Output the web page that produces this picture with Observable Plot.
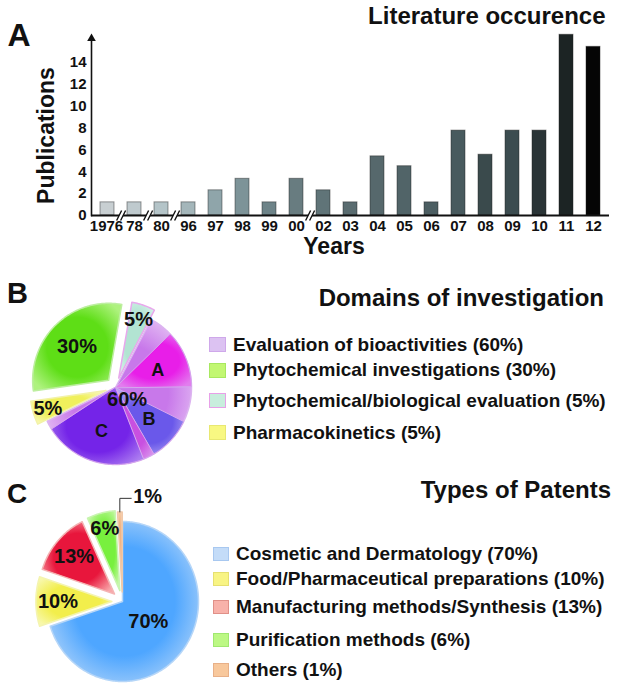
<!DOCTYPE html>
<html>
<head>
<meta charset="utf-8">
<script src="https://cdn.jsdelivr.net/npm/d3@7"></script>
<script src="https://cdn.jsdelivr.net/npm/@observablehq/plot@0.6"></script>
<style>
  body { margin: 0; background: #fff; }
  #root { position: relative; width: 624px; height: 684px; overflow: hidden; font-family: "Liberation Sans", Arial, sans-serif; color: #111; }
  .abs { position: absolute; }
  .ttl { font-weight: bold; font-size: 24px; line-height: 24px; white-space: nowrap; }
  .row { position: absolute; display: flex; align-items: center; height: 20px; white-space: nowrap; }
  .sw { box-sizing: border-box; border: 1px solid; margin-right: 7px; flex: none; }
  .lt { font-weight: bold; font-size: 19px; line-height: 20px; }
</style>
</head>
<body>
<div id="root"></div>
<script>
// ================= DATA =================
// Panel A – literature occurrence
const years = ["1976","78","80","96","97","98","99","00","02","03","04","05","06","07","08","09","10","11","12"];
const publications = [1.2,1.2,1.2,1.2,2.3,3.35,1.2,3.35,2.3,1.2,5.4,4.5,1.2,7.75,5.55,7.75,7.75,16.5,15.4];
const yTicks = [0,2,4,6,8,10,12,14];
const axisBreaksAfter = ["1976","78","80","00"];

// Panel B – domains of investigation
const domains = ["Evaluation of bioactivities","Phytochemical investigations","Phytochemical/biological evaluation","Pharmacokinetics"];
const domainShares = [60,30,5,5];
const domainPieOrder = ["Phytochemical/biological evaluation","Evaluation of bioactivities","Pharmacokinetics","Phytochemical investigations"];
const bioactivityParts = ["", "A", "", "B", "", "C", ""];
const bioactivityPartShares = [5,12,7.5,9.3,2.4,21.9,1.9];

// Panel C – types of patents
const patentTypes = ["Cosmetic and Dermatology","Food/Pharmaceutical preparations","Manufacturing methods/Synthesis","Purification methods","Others"];
const patentShares = [70,10,13,6,1];

// ================= STYLES =================
const FONT = "Liberation Sans, Arial, sans-serif";
const barColors = ["#c8cfd2","#bfcace","#b4c4c8","#a4b6ba","#8fa5aa","#7d9398","#6d8388","#687c80","#607478","#5a6c70",
                   "#56686c","#516468","#4c5e62","#485a5e","#3a4a4c","#3c4c50","#2a3436","#1c2424","#050505"];
const domainStyle = {
  "Evaluation of bioactivities": {inner:"#c878ea", outer:"#e8c8f5", stroke:"#dcb4f0", sw:"#dcc2f2", swb:"#cfa8ea"},
  "Phytochemical investigations": {inner:"#5ede16", outer:"#aef27e", stroke:"#bdeea0", sw:"#c2f772", swb:"#a8e860"},
  "Phytochemical/biological evaluation": {inner:"#b2e4d2", outer:"#d6f2ea", stroke:"#e8a8ec", sw:"#c8eedd", swb:"#e8a0e8"},
  "Pharmacokinetics": {inner:"#f0f05c", outer:"#f8f8b6", stroke:"#f2f2a8", sw:"#f8f882", swb:"#e8e872"}
};
const partStyle = [null, {inner:"#e81ee8", outer:"#e27cee"}, null, {inner:"#6a58ea", outer:"#b4a6f2"},
                   {inner:"#c850e0", outer:"#d890ec"}, {inner:"#7424e8", outer:"#ac7cf0"}, null];
const patentStyle = [
  {inner:"#4ea6ff", outer:"#b6d6f8", stroke:"#b6d6f8", sw:"#c4dcf8", swb:"#a8c8f0"},
  {inner:"#f2ee4c", outer:"#f8f8ac", stroke:"#f4f4b0", sw:"#f8f484", swb:"#e6e070"},
  {inner:"#e8163c", outer:"#f8a8aa", stroke:"#f4b4b4", sw:"#f8b2aa", swb:"#e09088"},
  {inner:"#78f03e", outer:"#c8f8aa", stroke:"#c8f4b0", sw:"#bcf884", swb:"#a0e870"},
  {inner:"#f2b484", outer:"#f8d6b8", stroke:"#f0c8a8", sw:"#f8c89c", swb:"#e8b088"}
];

const root = document.getElementById("root");

// axis-break symbols ("//")
const breakGap = {draw(ctx, size) {
  const h = Math.sqrt(size / Math.PI), w = h * 0.5, g = 2;
  ctx.moveTo(-g - w, h); ctx.lineTo(-g + w, -h); ctx.lineTo(g + w, -h); ctx.lineTo(g - w, h); ctx.closePath();
}};
const breakLines = {draw(ctx, size) {
  const h = Math.sqrt(size / Math.PI), w = h * 0.5, g = 2;
  ctx.moveTo(-g - w, h); ctx.lineTo(-g + w, -h);
  ctx.moveTo(g - w, h); ctx.lineTo(g + w, -h);
}};

// ================= PANEL A =================
const bars = years.map((y, i) => ({year: y, value: publications[i], color: barColors[i]}));
const tickText = {tickSize: 0, tickPadding: 5, fontSize: 15, fontWeight: "bold", label: null};
const plotA = Plot.plot({
  width: 624, height: 262,
  marginLeft: 91, marginRight: 15, marginTop: 39, marginBottom: 47,
  style: {fontFamily: FONT, background: "transparent", overflow: "visible", color: "#111"},
  x: {domain: years, paddingInner: 0.48, paddingOuter: 0.31, axis: null},
  y: {domain: [0, 16.07], axis: null},
  color: {type: "identity"},
  marks: [
    Plot.barY(bars, {x: "year", y: "value", fill: "color", stroke: "#222", strokeOpacity: 0.45, strokeWidth: 1}),
    Plot.frame({anchor: "left", strokeWidth: 1.6}),
    Plot.ruleY([0], {strokeWidth: 2.2}),
    Plot.dot(axisBreaksAfter, {x: d => d, y: () => 0, dx: 13.6, symbol: breakGap, r: 5, fill: "white", stroke: null}),
    Plot.dot(axisBreaksAfter, {x: d => d, y: () => 0, dx: 13.6, symbol: breakLines, r: 5, fill: "none", stroke: "#111", strokeWidth: 1.4}),
    Plot.dot([0], {frameAnchor: "top-left", symbol: "triangle", r: 3.2, fill: "#111", stroke: null, dy: -1}),
    Plot.axisY({ticks: yTicks, tickSize: 0, tickPadding: 5, fontSize: 15, fontWeight: "bold", label: null}),
    Plot.axisX(years.slice(1), tickText),
    Plot.axisX(years.slice(0, 1), {...tickText, dx: -1}),
    Plot.text(["Publications"], {frameAnchor: "left", textAnchor: "middle", lineAnchor: "middle", rotate: -90, dx: -44.5, dy: 8, fontSize: 23, fontWeight: "bold"}),
    Plot.text(["Years"], {frameAnchor: "bottom", textAnchor: "middle", lineAnchor: "middle", dx: -16.5, dy: 31.5, fontSize: 23, fontWeight: "bold"}),
    Plot.text(["Literature occurence"], {frameAnchor: "top-right", textAnchor: "end", lineAnchor: "middle", dx: -4, dy: -23.2, fontSize: 24, fontWeight: "bold"}),
    Plot.text(["A"], {frameAnchor: "top-left", textAnchor: "start", lineAnchor: "middle", dx: -84, dy: -4.2, fontSize: 32, fontWeight: "bold"})
  ]
});
plotA.style.position = "absolute"; plotA.style.left = "0px"; plotA.style.top = "0px";
root.appendChild(plotA);

// ================= PIE HELPERS =================
let gradCount = 0;
const gradients = [];
function grad(inner, outer) {
  const id = "g" + (gradCount++);
  gradients.push({id, inner, outer});
  return `url(#${id})`;
}
function wedgePoints(a0, a1, off) {
  const mid = (a0 + a1) / 2;
  const ox = off * Math.sin(mid), oy = off * Math.cos(mid);
  const n = Math.max(2, Math.ceil((a1 - a0) / (Math.PI / 180)));
  const pts = [{x: ox, y: oy}];
  for (let i = 0; i <= n; i++) {
    const a = a0 + (a1 - a0) * i / n;
    pts.push({x: ox + Math.sin(a), y: oy + Math.cos(a)});
  }
  return pts;
}
function polar(a, r, off) {
  return {x: off * Math.sin(a) + r * Math.sin(a), y: off * Math.cos(a) + r * Math.cos(a)};
}
function labelRadius(share, big) {
  if (share >= 50) return big;
  if (share >= 20) return 0.6;
  if (share >= 8) return 0.71;
  return 0.8;
}
function piePlot({H, cx, cy, rx, ry, marks}) {
  return Plot.plot({
    width: 624, height: H, margin: 0,
    style: {fontFamily: FONT, background: "transparent", overflow: "visible", color: "#111"},
    x: {domain: [-cx / rx, (624 - cx) / rx], range: [0, 624], axis: null},
    y: {domain: [(cy - H) / ry, cy / ry], range: [H, 0], axis: null},
    marks
  });
}
function addDefs(svg) {
  const defs = d3.select(svg).insert("defs", ":first-child");
  for (const g of gradients.splice(0)) {
    const rg = defs.append("radialGradient").attr("id", g.id).attr("cx", "50%").attr("cy", "50%").attr("r", "62%");
    rg.append("stop").attr("offset", "0%").attr("stop-color", g.inner);
    rg.append("stop").attr("offset", "55%").attr("stop-color", g.inner);
    rg.append("stop").attr("offset", "100%").attr("stop-color", g.outer);
  }
}
function place(el, top) { el.style.position = "absolute"; el.style.left = "0px"; el.style.top = top + "px"; root.appendChild(el); }
function addLegend(names, styles, rowsY, swLeft, swW, swH, textLeft) {
  names.forEach((name, i) => {
    const row = document.createElement("div");
    row.className = "row";
    row.style.left = swLeft + "px";
    row.style.top = (rowsY[i] - 10) + "px";
    const sw = document.createElement("div");
    sw.className = "sw";
    sw.style.width = swW + "px"; sw.style.height = swH + "px";
    sw.style.background = styles[i].sw; sw.style.borderColor = styles[i].swb;
    sw.style.marginRight = (textLeft - swLeft - swW) + "px";
    const t = document.createElement("span");
    t.className = "lt";
    t.textContent = `${name} (${styles[i].share}%)`;
    row.appendChild(sw); row.appendChild(t);
    root.appendChild(row);
  });
}
function addText(txt, cls, css) {
  const d = document.createElement("div");
  d.className = "abs " + cls;
  d.textContent = txt;
  Object.assign(d.style, css);
  root.appendChild(d);
}

// ================= PANEL B =================
{
  const values = domainPieOrder.map(n => domainShares[domains.indexOf(n)]);
  const explode = [0.13, 0, 0.13, 0.13];
  const start = 10 * Math.PI / 180;
  const arcs = d3.pie().sort(null).startAngle(start).endAngle(start + 2 * Math.PI)(values);
  const marks = [];
  const labels = [];
  arcs.forEach((a, i) => {
    const name = domainPieOrder[i];
    const st = domainStyle[name];
    marks.push(Plot.line(wedgePoints(a.startAngle, a.endAngle, explode[i]),
      {x: "x", y: "y", curve: "linear-closed", fill: grad(st.inner, st.outer), stroke: st.stroke, strokeWidth: 1.5}));
    const mid = (a.startAngle + a.endAngle) / 2;
    labels.push({...polar(mid, labelRadius(a.value, 0.22), explode[i]), text: a.value + "%"});
    if (name === "Evaluation of bioactivities") {
      const sub = d3.pie().sort(null).startAngle(a.startAngle).endAngle(a.endAngle)(bioactivityPartShares);
      sub.forEach((s, j) => {
        if (!partStyle[j]) return;
        marks.push(Plot.line(wedgePoints(s.startAngle, s.endAngle, 0),
          {x: "x", y: "y", curve: "linear-closed", fill: grad(partStyle[j].inner, partStyle[j].outer), stroke: "#d6a6ee", strokeWidth: 1}));
        if (bioactivityParts[j]) labels.push({...polar((s.startAngle + s.endAngle) / 2, 0.6, 0), text: bioactivityParts[j], small: true});
      });
    }
  });
  marks.push(Plot.text(labels.filter(d => !d.small), {x: "x", y: "y", text: "text", fontSize: 20, fontWeight: "bold", fill: "#111"}));
  marks.push(Plot.text(labels.filter(d => d.small), {x: "x", y: "y", text: "text", fontSize: 18, fontWeight: "bold", fill: "#111"}));
  const svg = piePlot({H: 205, cx: 115, cy: 117, rx: 76, ry: 77, marks});
  addDefs(svg);
  place(svg, 270);
  addText("B", "", {left: "7px", top: "279px", fontSize: "29px", fontWeight: "bold", lineHeight: "29px"});
  addText("Domains of investigation", "ttl", {right: "20px", top: "286px"});
  addLegend(domains, domains.map((n, i) => ({...domainStyle[n], share: domainShares[i]})), [344.5, 370, 400.5, 432.5], 209, 17, 15, 233);
}

// ================= PANEL C =================
{
  const explode = [0, 0.14, 0.14, 0.14, 0.12];
  const arcs = d3.pie().sort(null).startAngle(0).endAngle(2 * Math.PI)(patentShares);
  const marks = [];
  const labels = [];
  const leader = [];
  arcs.forEach((a, i) => {
    const st = patentStyle[i];
    marks.push(Plot.line(wedgePoints(a.startAngle, a.endAngle, explode[i]),
      {x: "x", y: "y", curve: "linear-closed", fill: grad(st.inner, st.outer), stroke: st.stroke, strokeWidth: 1.5}));
    const mid = (a.startAngle + a.endAngle) / 2;
    if (a.value < 3) {
      const p0 = polar(mid, 1.0, explode[i]);
      const p1 = {x: p0.x, y: p0.y + 0.17};
      const p2 = {x: p0.x + 0.15, y: p1.y};
      leader.push(p0, p1, p2);
      labels.push({x: p2.x, y: p2.y, text: a.value + "%", start: true});
    } else {
      labels.push({...polar(mid, labelRadius(a.value, 0.42), explode[i]), text: a.value + "%"});
    }
  });
  marks.push(Plot.line(leader, {x: "x", y: "y", stroke: "#333", strokeWidth: 1}));
  marks.push(Plot.text(labels.filter(d => !d.start), {x: "x", y: "y", text: "text", fontSize: 20, fontWeight: "bold", fill: "#111"}));
  marks.push(Plot.text(labels.filter(d => d.start), {x: "x", y: "y", text: "text", textAnchor: "start", dx: 2, dy: -2, fontSize: 20, fontWeight: "bold", fill: "#111"}));
  const svg = piePlot({H: 209, cx: 122, cy: 126, rx: 76, ry: 80, marks});
  addDefs(svg);
  place(svg, 475);
  addText("C", "", {left: "7px", top: "480px", fontSize: "28px", fontWeight: "bold", lineHeight: "28px"});
  addText("Types of Patents", "ttl", {right: "13px", top: "478px"});
  addLegend(patentTypes, patentStyle.map((s, i) => ({...s, share: patentShares[i]})), [553.5, 578.5, 607, 640, 670], 213, 16, 14, 236);
}
</script>
</body>
</html>
